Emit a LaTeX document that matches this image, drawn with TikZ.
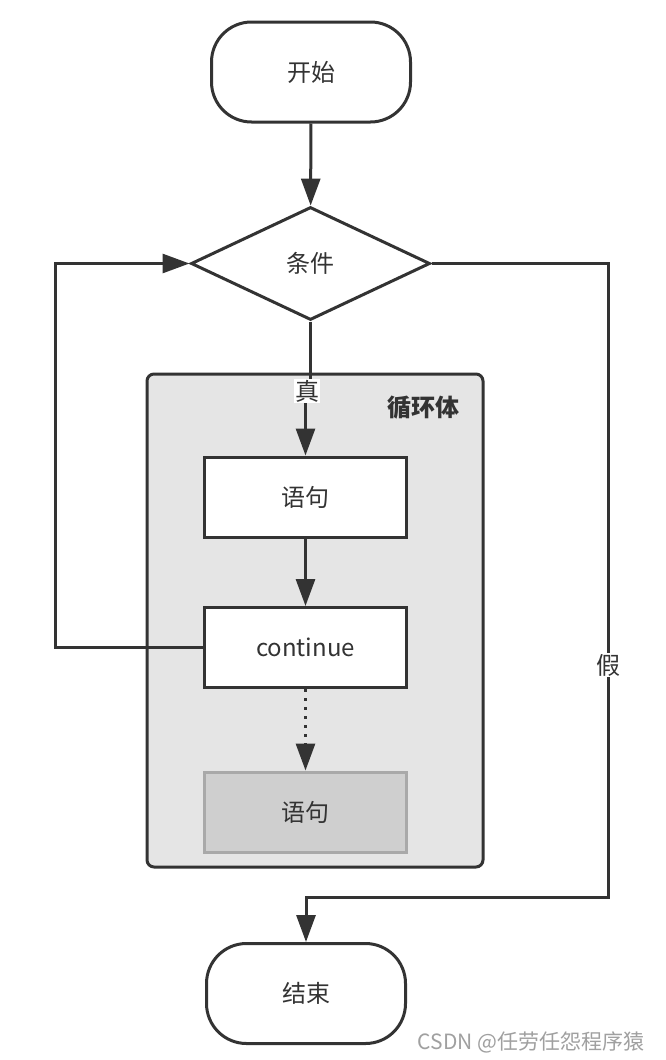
\documentclass[tikz,border=0pt]{standalone}
\usepackage{fontspec}
\setmainfont{Noto Sans CJK SC}
\usetikzlibrary{arrows.meta,shapes.geometric}
\definecolor{ln}{HTML}{333333}
\definecolor{loopfill}{HTML}{E5E5E5}
\definecolor{grayfill}{HTML}{CFCFCF}
\definecolor{grayline}{HTML}{A9A9A9}
\definecolor{wm}{HTML}{A0A0A0}
\tikzset{
  base/.style={draw=ln, line width=3pt, text=ln, font=\fontsize{24}{28}\selectfont, inner sep=0pt},
  term/.style={base, rectangle, rounded corners=40pt, minimum width=199pt, minimum height=100pt, fill=white},
  cond/.style={base, diamond, minimum width=239pt, minimum height=113pt, aspect=2.1, fill=white},
  stmt/.style={base, rectangle, minimum width=202pt, minimum height=80pt, fill=white},
  ghost/.style={base, rectangle, draw=grayline, fill=grayfill, minimum width=202pt, minimum height=80pt},
  loopbox/.style={draw=ln, line width=3pt, rounded corners=7pt, fill=loopfill, minimum width=336pt, minimum height=493pt, inner sep=0pt},
  conn/.style={draw=ln, line width=3pt},
  arr/.style={conn, -{Triangle[length=27pt,width=19pt]}},
  lbl/.style={fill=white, text=ln, font=\fontsize{24}{28}\selectfont, inner sep=1pt}
}
\begin{document}
\begin{tikzpicture}[x=1pt,y=-1pt]
\useasboundingbox (0,0) rectangle (665,1060);
\fill[white] (0,0) rectangle (665,1060);

\node[loopbox] (loop) at (315,620.5) {};
\node[text=ln, font=\fontsize{24}{28}\selectfont\bfseries] (looplbl) at (423,408) {循环体};

\node[term] (start) at (311,72) {开始};
\node[cond] (cond) at (310.5,263.5) {条件};
\node[stmt] (s1) at (305.5,497) {语句};
\node[stmt] (cont) at (305.5,647.5) {continue};
\node[ghost] (s2) at (305.5,812) {语句};
\node[term] (end) at (306,993.5) {结束};

\node[lbl] (true) at (307,391) {真};
\node[lbl] (false) at (608,665) {假};

\coordinate (lb) at (55,647.5);
\coordinate (fr) at (608,897);

\draw[arr] (start) -- (cond);
\draw[conn] (cond.south) -- (cond.south |- true.north);
\draw[arr] (true.south -| s1.north) -- (s1.north);
\draw[arr] (s1) -- (cont);
\draw[arr, dash pattern=on 3pt off 6pt] (cont) -- (s2);
\draw[arr] (cont.west) -- (lb) |- (cond.west);
\draw[conn] (cond.east) -| (false.north);
\draw[arr] (false.south) -- (fr) -| (end.north);

\node[text=wm, font=\fontsize{21}{24}\selectfont, anchor=east] (wmark) at (648,1042) {CSDN @任劳任怨程序猿};
\end{tikzpicture}
\end{document}
